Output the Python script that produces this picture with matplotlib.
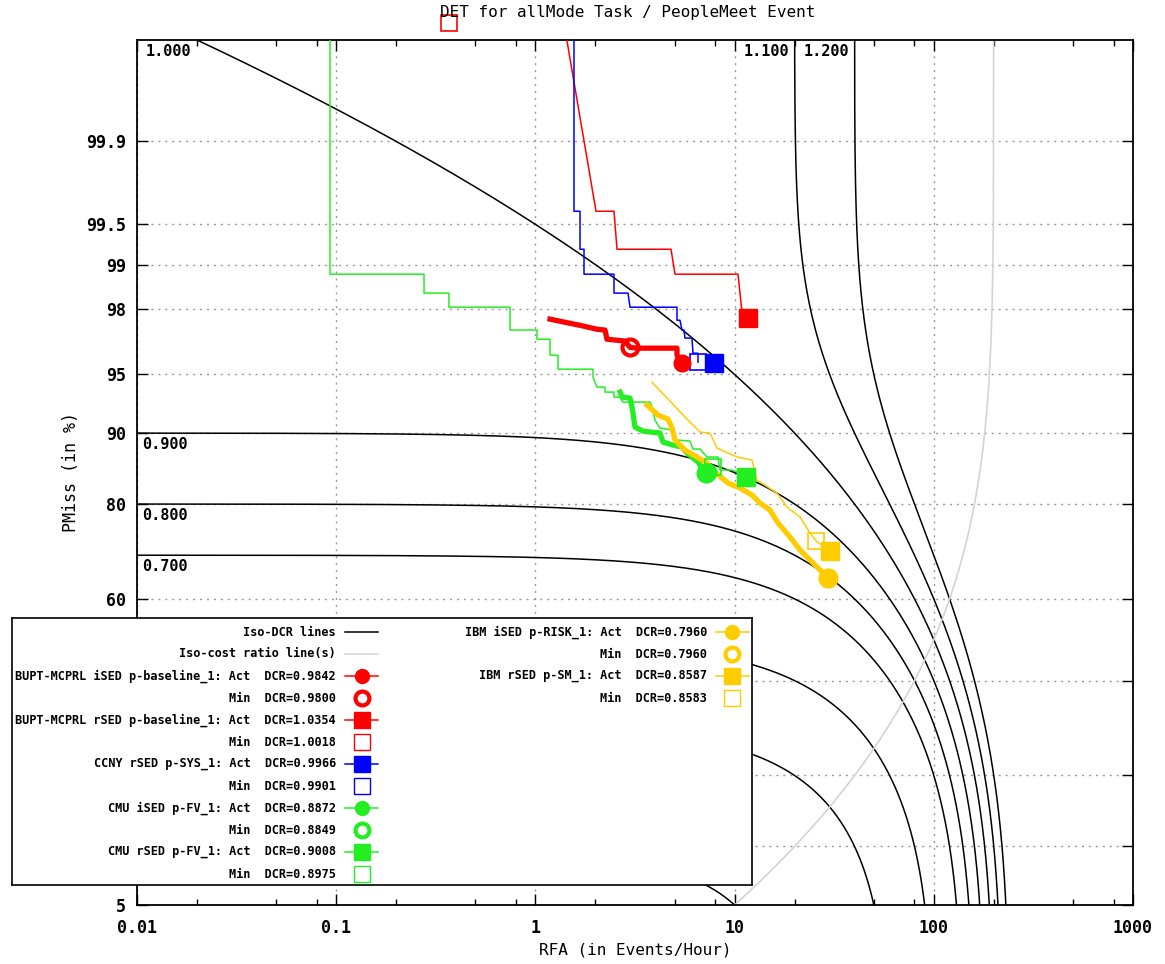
import math
import numpy as np
import matplotlib
matplotlib.use("Agg")
import matplotlib.pyplot as plt
from matplotlib.ticker import (FixedLocator, FixedFormatter, LogLocator,
                               NullFormatter, NullLocator)

# ---- values (RFA in events/hour, PMiss in %) ----
beta = 0.005  # DCR = PMiss + beta * RFA
iso_dcr_levels = [0.1, 0.3, 0.5, 0.7, 0.8, 0.9, 1.0, 1.1, 1.2]
iso_labelled = [0.7, 0.8, 0.9, 1.0, 1.1, 1.2]  # the others sit behind the legend

x_ticks = [0.01, 0.1, 1, 10, 100, 1000]
x_labels = ["0.01", "0.1", "1", "10", "100", "1000"]
y_ticks = [5, 10, 20, 40, 60, 80, 90, 95, 98, 99, 99.5, 99.9]
y_labels = ["5", "", "", "", "60", "80", "90", "95", "98", "99", "99.5", "99.9"]

bupt_i_rfa = [1.184, 1.408, 1.675, 2.038, 2.236, 2.288, 2.818, 2.985, 3.236, 5.139, 5.139, 5.444]
bupt_i_pmiss = [97.66, 97.55, 97.44, 97.29, 97.26, 96.88, 96.80, 96.51, 96.47, 96.47, 96.12, 95.70]

bupt_r_rfa = [1.39, 2.015, 2.481, 2.568, 4.795, 5.022, 10.40, 10.89, 11.68]
bupt_r_pmiss = [99.9935, 99.606, 99.606, 99.227, 99.227, 98.83, 98.83, 97.89, 97.70]

ccny_r_rfa = [1.562, 1.562, 1.675, 1.675, 1.754, 1.754, 2.481, 2.481, 2.917, 2.985,
              5.139, 5.139, 5.320, 5.444, 5.572, 5.636, 6.111, 6.182, 6.55, 6.55]
ccny_r_pmiss = [99.9935, 99.606, 99.606, 99.227, 99.227, 98.83, 98.83, 98.42, 98.42, 98.04,
                98.04, 97.62, 97.62, 97.26, 97.26, 96.93, 96.93, 96.22, 96.22, 95.74]

cmu_i_rfa = [2.659, 2.721, 2.985, 3.054, 3.090, 3.162, 3.469, 4.222, 4.371, 4.908,
             5.444, 5.768, 6.550, 7.104, 7.355]
cmu_i_pmiss = [93.77, 93.38, 93.30, 92.54, 92.00, 90.63, 90.21, 90.00, 88.98, 88.63,
               88.39, 87.65, 86.47, 85.08, 85.04]

cmu_r_rfa = [0.0931, 0.0931, 0.276, 0.276, 0.368, 0.368, 0.746, 0.746, 1.019, 1.019,
             1.184, 1.184, 1.299, 1.299, 1.946, 1.946, 2.038, 2.236, 2.236, 2.481,
             2.481, 2.659, 2.753, 3.761, 3.849, 3.985, 4.222, 4.908, 5.139, 5.972,
             6.182, 6.706, 7.270, 8.253, 8.445, 9.703, 10.28, 11.41]
cmu_r_pmiss = [99.9935, 98.83, 98.83, 98.42, 98.42, 98.04, 98.04, 97.26, 97.26, 96.88,
               96.88, 96.12, 96.12, 95.33, 95.33, 94.83, 94.14, 94.14, 93.77, 93.77,
               93.38, 93.38, 92.97, 92.97, 92.54, 91.34, 90.53, 90.32, 89.22, 89.10,
               88.15, 88.15, 87.14, 87.14, 85.37, 85.37, 85.08, 84.38]

ibm_i_rfa = [3.633, 4.126, 4.632, 4.851, 5.022, 5.636, 6.474, 7.270, 7.973, 9.266,
             10.64, 12.23, 13.41, 15.05, 16.52, 18.97, 21.30, 24.75, 29.10, 29.44]
ibm_i_pmiss = [92.72, 91.82, 91.44, 90.53, 89.22, 88.02, 87.14, 86.34, 85.08, 83.44,
               82.66, 81.52, 80.17, 78.94, 76.54, 73.80, 71.11, 68.30, 65.15, 64.88]

ibm_r_rfa = [3.849, 5.835, 6.706, 7.524, 8.157, 10.28, 12.23, 12.95, 16.33, 18.33,
             21.30, 23.90, 25.62, 30.12]
ibm_r_pmiss = [94.49, 91.34, 90.11, 90.00, 88.27, 87.14, 86.74, 83.90, 81.85, 79.47,
               77.67, 74.60, 73.02, 70.81]

sys_names = ["BUPT-MCPRL iSED p-baseline_1", "BUPT-MCPRL rSED p-baseline_1",
             "CCNY rSED p-SYS_1", "CMU iSED p-FV_1", "CMU rSED p-FV_1",
             "IBM iSED p-RISK_1", "IBM rSED p-SM_1"]
act_dcr = [0.9842, 1.0354, 0.9966, 0.8872, 0.9008, 0.7960, 0.8587]
min_dcr = [0.9800, 1.0018, 0.9901, 0.8849, 0.8975, 0.7960, 0.8583]
act_rfa = [5.444, 11.68, 7.88, 7.355, 11.41, 29.44, 30.12]
act_pmiss = [95.70, 97.70, 95.72, 85.04, 84.38, 64.88, 70.81]
min_rfa = [2.985, 0.368, 6.55, 7.19, 7.79, 29.44, 25.62]
min_pmiss = [96.51, 99.9935, 95.74, 84.89, 85.85, 64.88, 73.02]

curves_rfa = [bupt_i_rfa, bupt_r_rfa, ccny_r_rfa, cmu_i_rfa, cmu_r_rfa, ibm_i_rfa, ibm_r_rfa]
curves_pmiss = [bupt_i_pmiss, bupt_r_pmiss, ccny_r_pmiss, cmu_i_pmiss, cmu_r_pmiss,
                ibm_i_pmiss, ibm_r_pmiss]

# styles
RED, BLUE, GREEN, GOLD = "#ff0000", "#0000ff", "#22ee22", "#ffcc00"
sys_colors = [RED, RED, BLUE, GREEN, GREEN, GOLD, GOLD]
sys_thick = [True, False, False, True, False, True, False]
sys_marker = ["o", "s", "s", "o", "s", "o", "s"]


# ---- normal deviate scale for PMiss ----
_erfc = np.vectorize(math.erfc, otypes=[float])
A = [-3.969683028665376e+01, 2.209460984245205e+02, -2.759285104469687e+02,
     1.383577518672690e+02, -3.066479806614716e+01, 2.506628277459239e+00]
B = [-5.447609879822406e+01, 1.615858368580409e+02, -1.556989798598866e+02,
     6.680131188771972e+01, -1.328068155288572e+01]
C = [-7.784894002430293e-03, -3.223964580411365e-01, -2.400758277161838e+00,
     -2.549732539343734e+00, 4.374664141464968e+00, 2.938163982698783e+00]
D = [7.784695709041462e-03, 3.224671290700398e-01, 2.445134137142996e+00,
     3.754408161634419e+00]


def pct_to_z(p):
    p = np.clip(np.asarray(p, dtype=float) / 100.0, 1e-12, 1 - 1e-12)
    q = np.sqrt(-2 * np.log(np.minimum(p, 1 - p)))
    tail = ((((((C[0] * q + C[1]) * q + C[2]) * q + C[3]) * q + C[4]) * q + C[5])
            / ((((D[0] * q + D[1]) * q + D[2]) * q + D[3]) * q + 1))
    tail = np.where(p < 0.5, tail, -tail)
    s = p - 0.5
    r = s * s
    mid = (((((A[0] * r + A[1]) * r + A[2]) * r + A[3]) * r + A[4]) * r + A[5]) * s \
        / (((((B[0] * r + B[1]) * r + B[2]) * r + B[3]) * r + B[4]) * r + 1)
    x = np.where((p > 0.02425) & (p < 1 - 0.02425), mid, tail)
    e = 0.5 * _erfc(-x / np.sqrt(2)) - p
    u = e * np.sqrt(2 * np.pi) * np.exp(x * x / 2)
    return x - u / (1 + x * u / 2)


def z_to_pct(z):
    return 50.0 * _erfc(-np.asarray(z, dtype=float) / np.sqrt(2))


plt.rcParams["font.family"] = "DejaVu Sans Mono"
plt.rcParams["font.weight"] = "bold"

W, H = 1165, 964
fig = plt.figure(figsize=(W / 100, H / 100), dpi=100)
ax = fig.add_axes([137 / W, 1 - 905 / H, (1133 - 137) / W, (905 - 40) / H])
ax.set_xscale("log")
ax.set_yscale("function", functions=(pct_to_z, z_to_pct))
ax.set_xlim(0.01, 1000)
ax.set_ylim(5, 99.99)

ax.xaxis.set_major_locator(FixedLocator(x_ticks))
ax.xaxis.set_major_formatter(FixedFormatter(x_labels))
ax.xaxis.set_minor_locator(LogLocator(base=10, subs=(2, 5, 8)))
ax.xaxis.set_minor_formatter(NullFormatter())
ax.yaxis.set_major_locator(FixedLocator(y_ticks))
ax.yaxis.set_major_formatter(FixedFormatter(y_labels))
ax.yaxis.set_minor_locator(NullLocator())
ax.tick_params(which="both", direction="in", top=True, right=True, width=1)
ax.tick_params(which="major", length=8, labelsize=12)
ax.tick_params(which="minor", length=4)
ax.tick_params(axis="x", pad=10)
ax.tick_params(axis="y", pad=8)
for s in ax.spines.values():
    s.set_linewidth(1.3)
ax.set_axisbelow(True)
ax.grid(True, which="major", color="#9a9a9a", linestyle=(0, (1.5, 3.5)), linewidth=1.0)

# iso-DCR lines and their labels
for d in iso_dcr_levels:
    r_end = d / beta * 0.99999
    r_start = max(0.01, (d - 1.0) / beta)
    rfa = np.logspace(np.log10(r_start), np.log10(r_end), 1500)
    ax.plot(rfa, 100 * (d - beta * rfa), color="black", lw=1.1, zorder=2)
    if d not in iso_labelled:
        continue
    pm_left = d - beta * 0.01
    if pm_left <= 0.9999:
        ax.annotate(f"{d:.3f}", xy=(0, 100 * pm_left), xycoords=("axes fraction", "data"),
                    xytext=(4, -3), textcoords="offset points", ha="left", va="top",
                    fontsize=11, zorder=4)
    else:
        ax.annotate(f"{d:.3f}", xy=((d - 0.9999) / beta, 1), xycoords=("data", "axes fraction"),
                    xytext=(-4, -3), textcoords="offset points", ha="right", va="top",
                    fontsize=11, zorder=4)

# iso-cost ratio line
rfa = np.logspace(np.log10(5), np.log10(1 / beta * 0.99999), 800)
ax.plot(rfa, 100 * beta * rfa, color="#d4d4d4", lw=1.2, zorder=2)

# system curves
for i in range(len(sys_names)):
    ax.plot(curves_rfa[i], curves_pmiss[i], color=sys_colors[i],
            lw=3.8 if sys_thick[i] else 1.1, zorder=3)

for i in range(len(sys_names)):
    c, m = sys_colors[i], sys_marker[i]
    if m == "o":
        ax.plot(min_rfa[i], min_pmiss[i], marker="o", ms=11.5, mfc="none", mec=c, mew=3,
                ls="none", zorder=5, clip_on=False)
    else:
        ax.plot(min_rfa[i], min_pmiss[i], marker="s", ms=12, mfc="none", mec=c, mew=1.2,
                ls="none", zorder=5, clip_on=False)
    ax.plot(act_rfa[i], act_pmiss[i], marker=m, ms=12 if m == "o" else 12.5, mfc=c, mec=c,
            ls="none", zorder=6, clip_on=False)

ax.set_xlabel("RFA (in Events/Hour)", fontsize=11.5)
ax.xaxis.set_label_coords(0.5, -0.043)
ax.set_ylabel("PMiss (in %)", fontsize=12)
ax.yaxis.set_label_coords(-0.057, 0.5)
fig.text(628 / W, 1 - 13 / H, "DET for allMode Task / PeopleMeet Event",
         ha="center", va="center", fontsize=11.5, fontweight="normal")

# legend box (gnuplot style: right-aligned text, sample on the right)
lax = fig.add_axes([12 / W, 1 - 885 / H, 740 / W, 267 / H])
lax.set_xlim(0, 740)
lax.set_ylim(267, 0)
lax.set_xticks([])
lax.set_yticks([])
for s in lax.spines.values():
    s.set_linewidth(1.2)

cols = [(324, 333, 366, 350), (695, 704, 737, 720)]


def leg_entry(col, row, text, color, line=True, marker=None, filled=True):
    xt, x0, x1, xm = cols[col]
    y = 14 + 22 * row
    lax.text(xt, y, text, ha="right", va="center", fontsize=8.6)
    if line:
        lax.plot([x0, x1], [y, y], color=color, lw=1.1)
    if marker == "o":
        if filled:
            lax.plot(xm, y, marker="o", ms=10, mfc=color, mec=color)
        else:
            lax.plot(xm, y, marker="o", ms=10, mfc="none", mec=color, mew=3)
    elif marker == "s":
        if filled:
            lax.plot(xm, y, marker="s", ms=11, mfc=color, mec=color)
        else:
            lax.plot(xm, y, marker="s", ms=11, mfc="none", mec=color, mew=1.0)


leg_entry(0, 0, "Iso-DCR lines", "black")
leg_entry(0, 1, "Iso-cost ratio line(s)", "#d4d4d4")
for i in range(len(sys_names)):
    col = 0 if i < 5 else 1
    row = 2 + 2 * i if i < 5 else 2 * (i - 5)
    leg_entry(col, row, f"{sys_names[i]}: Act  DCR={act_dcr[i]:.4f}", sys_colors[i],
              marker=sys_marker[i])
    leg_entry(col, row + 1, f"Min  DCR={min_dcr[i]:.4f}", sys_colors[i], line=False,
              marker=sys_marker[i], filled=False)

fig.savefig("out.png", dpi=100)
